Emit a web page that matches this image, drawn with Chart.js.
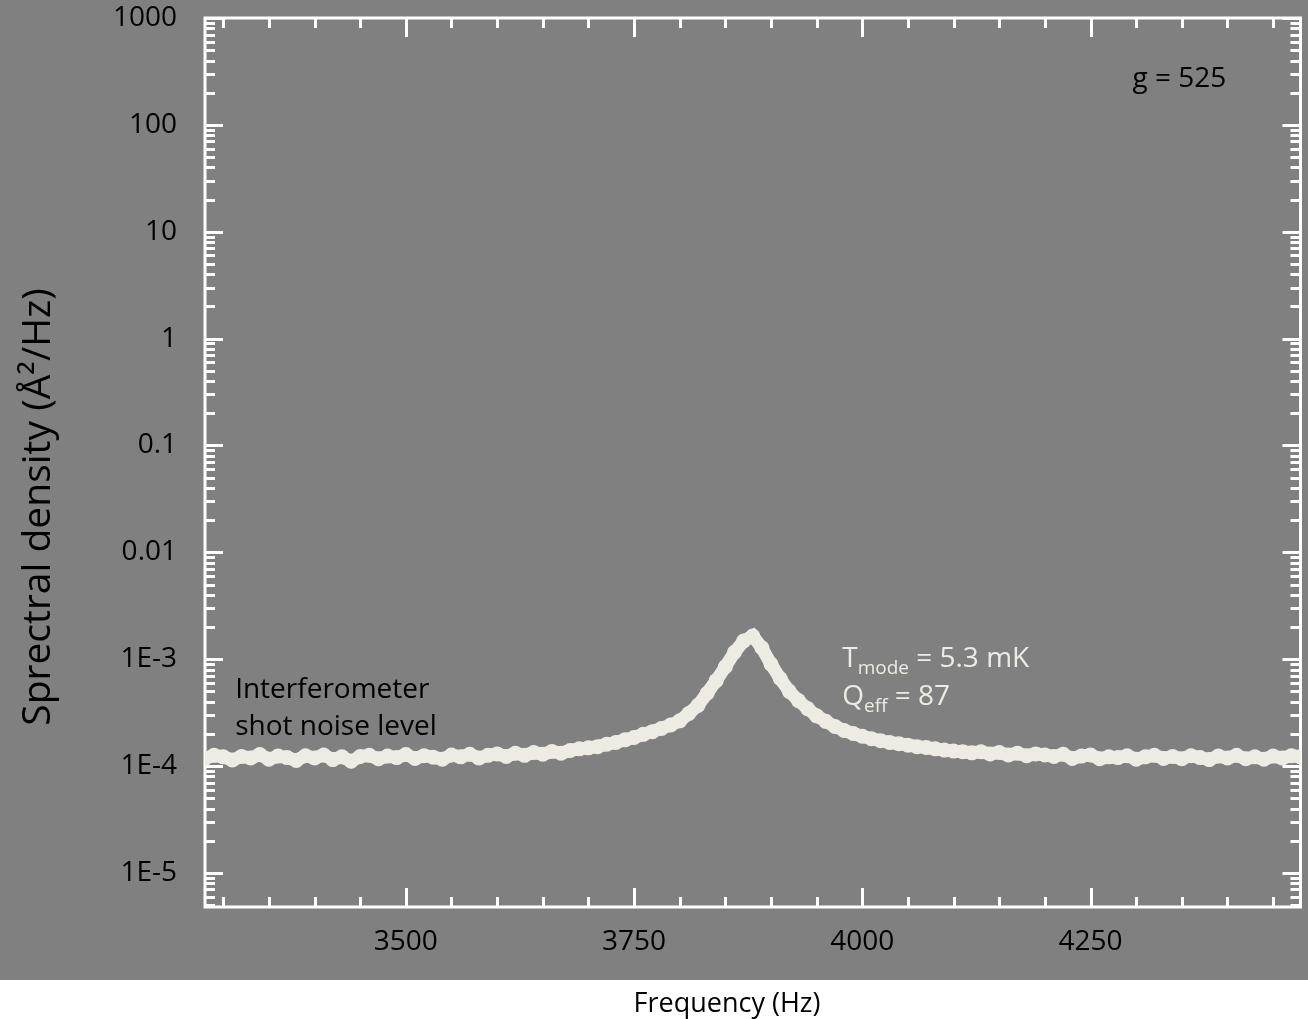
<!DOCTYPE html>
<html>
<head>
<meta charset="utf-8">
<script src="https://cdn.jsdelivr.net/npm/chart.js@4/dist/chart.umd.min.js"></script>
<style>
  html, body { margin: 0; padding: 0; background: #fff; }
  #contenedor { width: 1308px; height: 1019px; }
</style>
</head>
<body>
<div id="contenedor"><canvas id="grafico"></canvas></div>
<script>
// Frecuencias (Hz)
const frecuencias = [
  3280, 3290, 3300, 3310, 3320, 3330, 3340, 3350, 3360, 3370,
  3380, 3390, 3400, 3410, 3420, 3430, 3440, 3450, 3460, 3470,
  3480, 3490, 3500, 3510, 3520, 3530, 3540, 3550, 3560, 3570,
  3580, 3590, 3600, 3610, 3620, 3630, 3640, 3650, 3660, 3670,
  3680, 3690, 3700, 3710, 3720, 3730, 3740, 3750, 3760, 3770,
  3780, 3790, 3800, 3810, 3820, 3830, 3840, 3850, 3860, 3870,
  3880, 3890, 3900, 3910, 3920, 3930, 3940, 3950, 3960, 3970,
  3980, 3990, 4000, 4010, 4020, 4030, 4040, 4050, 4060, 4070,
  4080, 4090, 4100, 4110, 4120, 4130, 4140, 4150, 4160, 4170,
  4180, 4190, 4200, 4210, 4220, 4230, 4240, 4250, 4260, 4270,
  4280, 4290, 4300, 4310, 4320, 4330, 4340, 4350, 4360, 4370,
  4380, 4390, 4400, 4410, 4420, 4430, 4440, 4450, 4460, 4470,
  4480
];
// Densidad espectral en unidades de 1E-4 Å²/Hz
const densidadE4 = [
  1.18, 1.26, 1.22, 1.14, 1.23, 1.19, 1.28, 1.16, 1.24, 1.20,
  1.13, 1.25, 1.19, 1.27, 1.15, 1.22, 1.11, 1.23, 1.26, 1.17,
  1.24, 1.20, 1.28, 1.18, 1.25, 1.21, 1.16, 1.27, 1.22, 1.29,
  1.19, 1.26, 1.30, 1.23, 1.32, 1.26, 1.34, 1.29, 1.37, 1.32,
  1.40, 1.45, 1.48, 1.52, 1.60, 1.66, 1.76, 1.85, 1.98, 2.10,
  2.25, 2.42, 2.65, 3.10, 3.70, 4.80, 6.30, 8.50, 11.6, 14.8,
  16.5, 12.8, 9.0, 6.6, 5.0, 4.1, 3.45, 2.95, 2.62, 2.35,
  2.15, 2.02, 1.90, 1.80, 1.73, 1.66, 1.62, 1.57, 1.52, 1.49,
  1.45, 1.41, 1.38, 1.36, 1.33, 1.36, 1.30, 1.34, 1.27, 1.32,
  1.25, 1.30, 1.27, 1.23, 1.29, 1.18, 1.24, 1.27, 1.17, 1.22,
  1.20, 1.25, 1.16, 1.22, 1.26, 1.18, 1.23, 1.17, 1.25, 1.20,
  1.15, 1.24, 1.19, 1.26, 1.17, 1.22, 1.16, 1.24, 1.19, 1.25,
  1.22
];
const yTicks = [1e-5, 1e-4, 1e-3, 0.01, 0.1, 1, 10, 100, 1000];
const yTickLabels = ['1E-5', '1E-4', '1E-3', '0.01', '0.1', '1', '10', '100', '1000'];
const xTicks = [3500, 3750, 4000, 4250];
const xTickLabels = ['3500', '3750', '4000', '4250'];

const fuente = "'Open Sans', 'Noto Sans', sans-serif";
const crema = '#EEEBE2';

function textoConSubindice(ctx, partes, x, y) {
  // partes: [texto, esSubindice]
  let cx = x;
  partes.forEach(p => {
    ctx.font = p[1] ? '19px ' + fuente : '28px ' + fuente;
    ctx.fillText(p[0], cx, p[1] ? y + 7 : y);
    cx += ctx.measureText(p[0]).width;
  });
}

const marcoPlugin = {
  id: 'marco',
  beforeDraw(chart) {
    const ctx = chart.ctx;
    ctx.save();
    ctx.fillStyle = '#ffffff';
    ctx.fillRect(0, 0, chart.width, chart.height);
    ctx.fillStyle = '#808080';
    ctx.fillRect(0, 0, chart.width, 980);
    ctx.restore();
  },
  beforeDatasetsDraw(chart) {
    const ctx = chart.ctx;
    const a = chart.chartArea;
    const xs = chart.scales.x;
    const ys = chart.scales.y;
    ctx.save();
    ctx.strokeStyle = '#ffffff';
    ctx.lineWidth = 3;
    ctx.strokeRect(a.left, a.top, a.right - a.left, a.bottom - a.top);
    ctx.beginPath();
    // marcas del eje y (log), hacia dentro en ambos lados
    for (let d = 1e-6; d < 1e4; d *= 10) {
      for (let m = 1; m <= 9; m++) {
        const v = m * d;
        if (v < ys.min || v > ys.max) continue;
        const py = Math.round(ys.getPixelForValue(v)) + 0.5;
        const largo = m === 1 ? 18 : 10;
        ctx.moveTo(a.left, py); ctx.lineTo(a.left + largo, py);
        ctx.moveTo(a.right, py); ctx.lineTo(a.right - largo, py);
      }
    }
    // marcas del eje x
    for (let f = 3300; f <= 4450; f += 50) {
      const px = Math.round(xs.getPixelForValue(f)) + 0.5;
      const largo = f % 250 === 0 ? 19 : 10;
      ctx.moveTo(px, a.bottom); ctx.lineTo(px, a.bottom - largo);
      ctx.moveTo(px, a.top); ctx.lineTo(px, a.top + largo);
    }
    ctx.stroke();
    ctx.restore();
  },
  afterDraw(chart) {
    const ctx = chart.ctx;
    const xs = chart.scales.x;
    const ys = chart.scales.y;
    ctx.save();
    ctx.textBaseline = 'alphabetic';
    ctx.textAlign = 'left';
    ctx.fillStyle = '#000000';
    ctx.font = '28px ' + fuente;
    ctx.fillText('g = 525', xs.getPixelForValue(4296), ys.getPixelForValue(226));
    ctx.fillText('Interferometer', xs.getPixelForValue(3313), ys.getPixelForValue(4.35e-4));
    ctx.fillText('shot noise level', xs.getPixelForValue(3313), ys.getPixelForValue(1.96e-4));
    ctx.fillStyle = crema;
    textoConSubindice(ctx, [['T', false], ['mode', true], [' = 5.3 mK', false]],
      xs.getPixelForValue(3978), ys.getPixelForValue(8.49e-4));
    textoConSubindice(ctx, [['Q', false], ['eff', true], [' = 87', false]],
      xs.getPixelForValue(3978), ys.getPixelForValue(3.74e-4));
    // títulos de ejes
    ctx.fillStyle = '#000000';
    ctx.textAlign = 'center';
    ctx.font = '27px ' + fuente;
    ctx.fillText('Frequency (Hz)', 727, 1012);
    ctx.translate(50, 507);
    ctx.rotate(-Math.PI / 2);
    ctx.font = '39px ' + fuente;
    ctx.fillText('Sprectral density (Å²/Hz)', 0, 0);
    ctx.restore();
  }
};

const puntos = frecuencias.map((f, i) => ({ x: f, y: densidadE4[i] * 1e-4 }));

new Chart(document.getElementById('grafico').getContext('2d'), {
  type: 'scatter',
  data: {
    datasets: [{
      data: puntos,
      showLine: true,
      borderColor: crema,
      borderWidth: 13,
      pointRadius: 7.5,
      pointBackgroundColor: crema,
      pointBorderWidth: 0,
      tension: 0,
      clip: 0
    }]
  },
  options: {
    responsive: true,
    maintainAspectRatio: false,
    animation: false,
    layout: { padding: { top: 18, right: 3, left: 0, bottom: 0 } },
    plugins: { legend: { display: false }, tooltip: { enabled: false } },
    scales: {
      x: {
        type: 'linear',
        min: 3280,
        max: 4480,
        grid: { display: false, drawTicks: false },
        border: { display: false },
        afterBuildTicks: s => { s.ticks = xTicks.map(v => ({ value: v })); },
        afterFit: s => { s.height = 112; s.paddingLeft = 0; s.paddingRight = 0; },
        ticks: {
          autoSkip: false,
          maxRotation: 0,
          padding: 18,
          color: '#000000',
          font: { family: fuente, size: 28 },
          callback: (v, i) => xTickLabels[i]
        }
      },
      y: {
        type: 'logarithmic',
        min: 4.8e-6,
        max: 1000,
        grid: { display: false, drawTicks: false },
        border: { display: false },
        afterBuildTicks: s => { s.ticks = yTicks.map(v => ({ value: v })); },
        afterFit: s => { s.width = 205; s.paddingTop = 0; s.paddingBottom = 0; },
        ticks: {
          autoSkip: false,
          padding: 28,
          color: '#000000',
          font: { family: fuente, size: 28 },
          callback: (v, i) => yTickLabels[i]
        }
      }
    }
  },
  plugins: [marcoPlugin]
});
</script>
</body>
</html>
